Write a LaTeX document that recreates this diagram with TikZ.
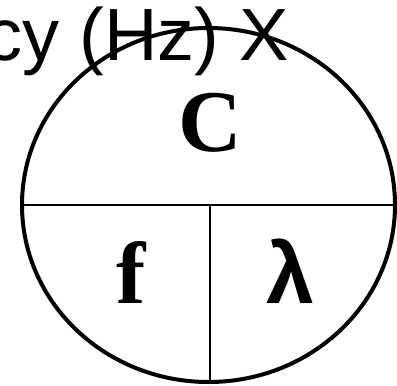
\documentclass[tikz,border=0pt]{standalone}
\usepackage{fontspec}
\setmainfont{Liberation Serif}
\newfontfamily\arialfont{Liberation Sans}
\usetikzlibrary{shapes.geometric, positioning}

\begin{document}
\begin{tikzpicture}[x=1pt, y=-1pt,
		ring/.style={draw=black, line width=4pt, ellipse, minimum width=373pt, minimum height=354pt, inner sep=0pt},
		divider/.style={draw=black, line width=1.4pt},
		qty/.style={font=\fontsize{88}{90}\selectfont\bfseries, inner sep=0pt},
		greekqty/.style={font=\arialfont\fontsize{86}{90}\selectfont\bfseries, inner sep=0pt},
		caption/.style={font=\arialfont\fontsize{74}{80}\selectfont, inner sep=0pt}
	]
	\useasboundingbox (0,0) rectangle (397,386);

	% --- Wave equation triangle ---
	\node[ring] (ring) at (208.5,205) {};
	\coordinate (split) at (210,205);

	\draw[divider] (ring.west) -- (ring.east);
	\draw[divider] (split) -- (split |- ring.south);

	% --- Quantities ---
	\node[qty] (speed) at (210,123) {C};
	\node[qty, anchor=base] (freq) at (131,303) {f};
	\node[greekqty, anchor=base] (wavelen) at (290,303) {λ};

	% --- Axis label (cut at the left edge, as in the source) ---
	\node[caption, anchor=base west] (axis) at (-15,60) {cy (Hz) X};

\end{tikzpicture}
\end{document}
